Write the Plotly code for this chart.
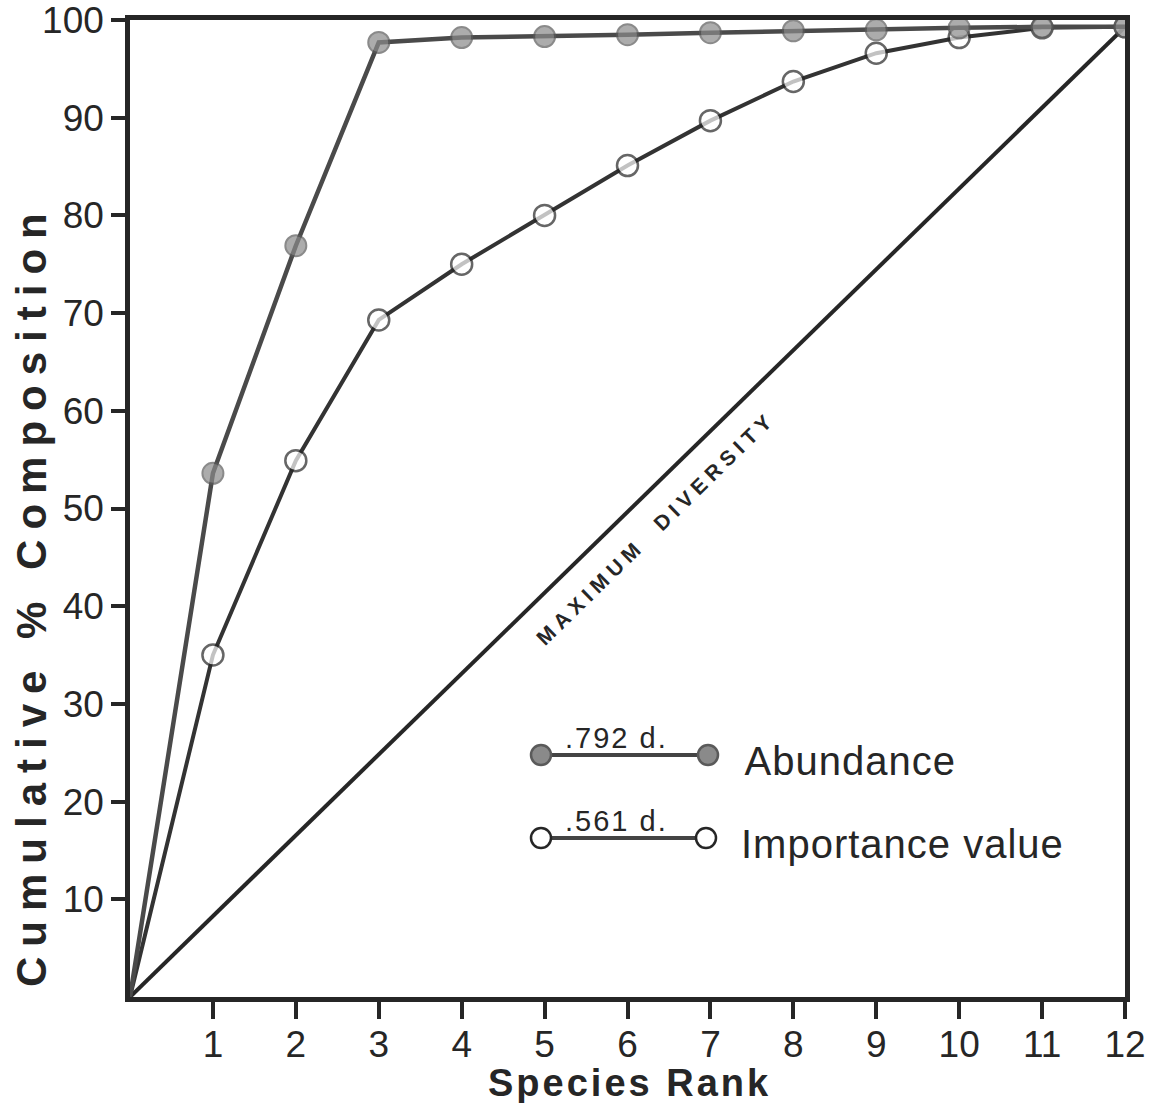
import plotly.graph_objects as go

# ---- data ----
rank = [0, 1, 2, 3, 4, 5, 6, 7, 8, 9, 10, 11, 12]
abundance = [0, 53.6, 76.9, 97.7, 98.2, 98.3, 98.5, 98.7, 98.9, 99.0, 99.2, 99.3, 99.3]
importance = [0, 35.0, 54.9, 69.3, 75.0, 80.0, 85.1, 89.7, 93.7, 96.6, 98.2, 99.2, 99.3]
max_div_rank = [0, 12]
max_div_val = [0, 99.3]
x_ticks = [1, 2, 3, 4, 5, 6, 7, 8, 9, 10, 11, 12]
y_ticks = [10, 20, 30, 40, 50, 60, 70, 80, 90, 100]
abundance_d = ".792 d."
importance_d = ".561 d."

INK = "#262626"
FONT = "Liberation Sans, Arial, sans-serif"

msize = [0] + [21] * (len(rank) - 1)

fig = go.Figure()
fig.add_trace(go.Scatter(x=max_div_rank, y=max_div_val, mode="lines",
                         line=dict(color=INK, width=4), hoverinfo="skip",
                         name="Maximum diversity"))
fig.add_trace(go.Scatter(x=rank, y=importance, mode="lines+markers",
                         line=dict(color="#333333", width=4),
                         marker=dict(size=msize, color="white",
                                     line=dict(color=INK, width=2.5)),
                         name="Importance value"))
fig.add_trace(go.Scatter(x=rank, y=abundance, mode="lines+markers",
                         line=dict(color="#4a4a4a", width=4.5),
                         marker=dict(size=msize, color="#8a8a8a",
                                     line=dict(color="#5a5a5a", width=2)),
                         name="Abundance"))

# ---- legend drawn as decorations (paper coordinates) ----
def px_x(p):
    return (p - 130) / 995.0

def px_y(p):
    return (997 - p) / 977.0

shapes = []
annotations = []
for (yy, x0, x1, fill, outline, label, dtext, ty) in [
    (755, 541, 708, "#8a8a8a", "#5a5a5a", "Abundance", abundance_d, 759),
    (838, 541, 706, "white", INK, "Importance value", importance_d, 842),
]:
    shapes.append(dict(type="line", xref="paper", yref="paper",
                       x0=px_x(x0), x1=px_x(x1), y0=px_y(yy), y1=px_y(yy),
                       line=dict(color="#444444", width=4)))
    for xx in (x0, x1):
        shapes.append(dict(type="circle", xref="paper", yref="paper",
                           xsizemode="pixel", ysizemode="pixel",
                           xanchor=px_x(xx), yanchor=px_y(yy),
                           x0=-10, x1=10, y0=-10, y1=10,
                           fillcolor=fill, line=dict(color=outline, width=2.5)))
    annotations.append(dict(xref="paper", yref="paper",
                            x=px_x(616), y=px_y(yy),
                            yanchor="bottom", xanchor="center", yshift=-1,
                            text=dtext, showarrow=False,
                            font=dict(family=FONT, size=29, color=INK)))
    annotations.append(dict(xref="paper", yref="paper",
                            x=px_x(747), y=px_y(ty + 2),
                            xanchor="left", yanchor="middle",
                            text=label, showarrow=False,
                            font=dict(family=FONT, size=40, color=INK)))

# Maximum diversity label along the diagonal
annotations.append(dict(xref="paper", yref="paper", x=px_x(655), y=px_y(528),
                        text="<b>MAXIMUM  DIVERSITY</b>", showarrow=False,
                        textangle=-44.3, xanchor="center", yanchor="middle",
                        font=dict(family=FONT, size=21, color=INK)))

# axis titles
annotations.append(dict(xref="paper", yref="paper", x=px_x(630), y=px_y(1083),
                        text="<b>Species Rank</b>", showarrow=False,
                        xanchor="center", yanchor="middle",
                        font=dict(family=FONT, size=38, color=INK)))
annotations.append(dict(xref="paper", yref="paper", x=px_x(31), y=px_y(595),
                        text="<b>Cumulative % Composition</b>", showarrow=False,
                        textangle=-90, xanchor="center", yanchor="middle",
                        font=dict(family=FONT, size=42, color=INK)))

axis_common = dict(showline=True, linecolor=INK, linewidth=4.5, mirror=True,
                   showgrid=False, zeroline=False, ticks="outside",
                   tickwidth=3.5, tickcolor=INK, ticklabeloverflow="allow",
                   tickfont=dict(family=FONT, size=37, color=INK))

fig.update_layout(
    width=1154, height=1103,
    margin=dict(l=130, r=29, t=20, b=106, autoexpand=False),
    paper_bgcolor="white", plot_bgcolor="white",
    showlegend=False,
    xaxis=dict(range=[0, 12], tickvals=x_ticks, ticklen=17,
               ticklabelstandoff=-6, **axis_common),
    yaxis=dict(range=[0, 100], tickvals=y_ticks, ticklen=14,
               ticklabelstandoff=0, **axis_common),
    shapes=shapes,
    annotations=annotations,
)

post = """
var spacing = {
  'MAXIMUM': '5.5px',
  'Cumulative': '10px',
  'Species': '3px',
  '.792': '2px',
  '.561': '2px',
  'Abundance': '1px',
  'Importance': '1px'
};
document.querySelectorAll('.annotation-text').forEach(function(t){
  var s = t.textContent;
  Object.keys(spacing).forEach(function(k){
    if (s.indexOf(k) === 0) {
      t.style.letterSpacing = spacing[k];
      t.style.whiteSpace = 'pre';
    }
  });
});
"""

fig.write_html("out.html", post_script=post)
